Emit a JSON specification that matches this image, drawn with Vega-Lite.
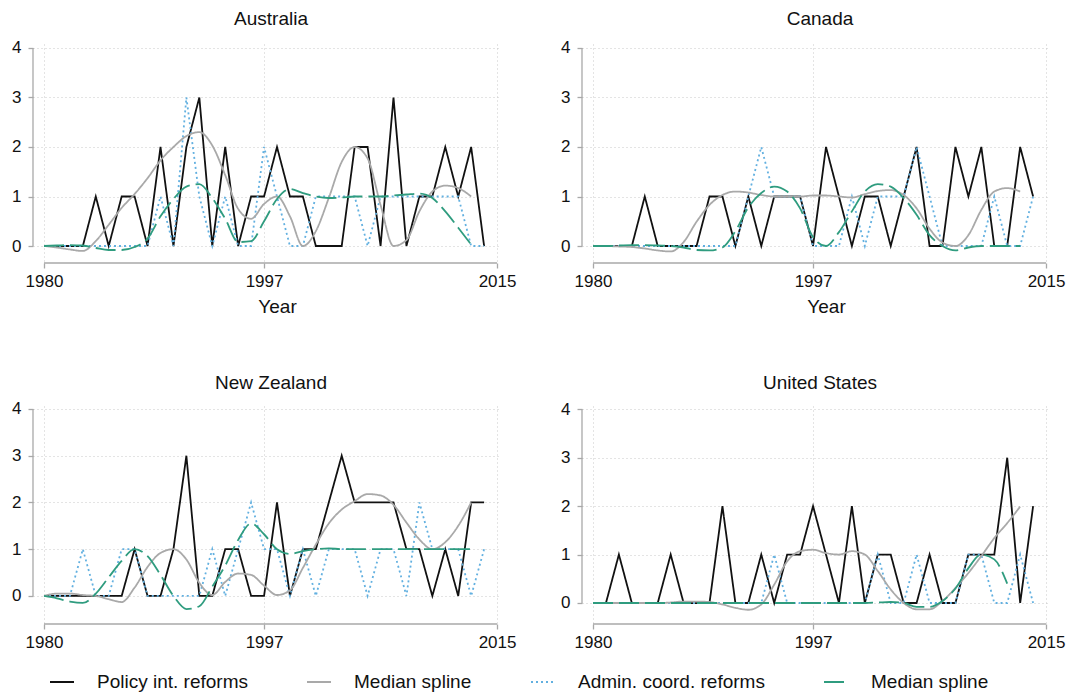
{
  "$schema": "https://vega.github.io/schema/vega-lite/v6.json",
  "padding": {"left": 11, "top": 9, "right": 2, "bottom": 2},
  "config": {
    "font": "Liberation Sans",
    "view": {"stroke": null},
    "title": {"fontSize": 19, "fontWeight": "normal", "color": "#111111", "anchor": "middle", "frame": "group", "baseline": "alphabetic", "offset": 10, "dx": -6},
    "axis": {"domain": false, "grid": true, "gridColor": "#c8c8c8", "gridDash": [1, 3], "gridWidth": 1, "tickColor": "#a8a8a8", "tickWidth": 1.3, "tickSize": 5, "labelFontSize": 17, "labelColor": "#111111", "titleFontSize": 19, "titleFontWeight": "normal", "titleColor": "#111111"},
    "axisX": {"labelPadding": 5, "titlePadding": 8, "labelFlush": false},
    "axisY": {"labelPadding": 7, "offset": 11}
  },
  "data": {"values": [
    {"c":"AU","year":1980,"p":0,"ps":0,"a":0,"as":0},
    {"c":"AU","year":1981,"p":0,"ps":-0.03,"a":0,"as":0.01},
    {"c":"AU","year":1982,"p":0,"ps":-0.07,"a":0,"as":0.02},
    {"c":"AU","year":1983,"p":0,"ps":-0.1,"a":0,"as":0.01},
    {"c":"AU","year":1984,"p":1,"ps":0.1,"a":0,"as":-0.04},
    {"c":"AU","year":1985,"p":0,"ps":0.43,"a":0,"as":-0.08},
    {"c":"AU","year":1986,"p":1,"ps":0.77,"a":0,"as":-0.08},
    {"c":"AU","year":1987,"p":1,"ps":1.05,"a":0,"as":-0.02},
    {"c":"AU","year":1988,"p":0,"ps":1.37,"a":0,"as":0.15},
    {"c":"AU","year":1989,"p":2,"ps":1.73,"a":1,"as":0.6},
    {"c":"AU","year":1990,"p":0,"ps":2.0,"a":0,"as":0.95},
    {"c":"AU","year":1991,"p":2,"ps":2.22,"a":3,"as":1.2},
    {"c":"AU","year":1992,"p":3,"ps":2.3,"a":1,"as":1.25},
    {"c":"AU","year":1993,"p":0,"ps":2.03,"a":0,"as":0.97},
    {"c":"AU","year":1994,"p":2,"ps":1.43,"a":1,"as":0.55},
    {"c":"AU","year":1995,"p":0,"ps":0.75,"a":0,"as":0.08},
    {"c":"AU","year":1996,"p":1,"ps":0.55,"a":0,"as":0.1},
    {"c":"AU","year":1997,"p":1,"ps":0.85,"a":2,"as":0.5},
    {"c":"AU","year":1998,"p":2,"ps":1.0,"a":1,"as":0.95},
    {"c":"AU","year":1999,"p":1,"ps":0.6,"a":0,"as":1.15},
    {"c":"AU","year":2000,"p":1,"ps":0.0,"a":0,"as":1.07},
    {"c":"AU","year":2001,"p":0,"ps":0.3,"a":1,"as":1.0},
    {"c":"AU","year":2002,"p":0,"ps":0.97,"a":1,"as":0.97},
    {"c":"AU","year":2003,"p":0,"ps":1.7,"a":1,"as":0.98},
    {"c":"AU","year":2004,"p":2,"ps":2.0,"a":1,"as":1.0},
    {"c":"AU","year":2005,"p":2,"ps":1.77,"a":0,"as":1.0},
    {"c":"AU","year":2006,"p":0,"ps":0.83,"a":1,"as":1.0},
    {"c":"AU","year":2007,"p":3,"ps":0.0,"a":1,"as":1.02},
    {"c":"AU","year":2008,"p":0,"ps":0.12,"a":1,"as":1.04},
    {"c":"AU","year":2009,"p":1,"ps":0.7,"a":1,"as":1.06},
    {"c":"AU","year":2010,"p":1,"ps":1.1,"a":1,"as":0.97},
    {"c":"AU","year":2011,"p":2,"ps":1.22,"a":1,"as":0.7},
    {"c":"AU","year":2012,"p":1,"ps":1.17,"a":1,"as":0.37},
    {"c":"AU","year":2013,"p":2,"ps":1.0,"a":0,"as":0.03},
    {"c":"AU","year":2014,"p":0,"ps":null,"a":0,"as":null},
    {"c":"CA","year":1980,"p":0,"ps":0,"a":0,"as":0},
    {"c":"CA","year":1981,"p":0,"ps":0,"a":0,"as":0},
    {"c":"CA","year":1982,"p":0,"ps":-0.01,"a":0,"as":0.01},
    {"c":"CA","year":1983,"p":0,"ps":-0.02,"a":0,"as":0.02},
    {"c":"CA","year":1984,"p":1,"ps":-0.05,"a":0,"as":0.02},
    {"c":"CA","year":1985,"p":0,"ps":-0.09,"a":0,"as":0.01},
    {"c":"CA","year":1986,"p":0,"ps":-0.11,"a":0,"as":0.0},
    {"c":"CA","year":1987,"p":0,"ps":0.08,"a":0,"as":-0.03},
    {"c":"CA","year":1988,"p":0,"ps":0.49,"a":0,"as":-0.08},
    {"c":"CA","year":1989,"p":1,"ps":0.83,"a":0,"as":-0.09},
    {"c":"CA","year":1990,"p":1,"ps":1.03,"a":0,"as":-0.03},
    {"c":"CA","year":1991,"p":0,"ps":1.1,"a":0,"as":0.3},
    {"c":"CA","year":1992,"p":1,"ps":1.08,"a":1,"as":0.78},
    {"c":"CA","year":1993,"p":0,"ps":1.03,"a":2,"as":1.07},
    {"c":"CA","year":1994,"p":1,"ps":1.0,"a":1,"as":1.2},
    {"c":"CA","year":1995,"p":1,"ps":1.0,"a":1,"as":1.1},
    {"c":"CA","year":1996,"p":1,"ps":1.0,"a":1,"as":0.76},
    {"c":"CA","year":1997,"p":0,"ps":1.02,"a":0,"as":0.18},
    {"c":"CA","year":1998,"p":2,"ps":1.02,"a":0,"as":0.0},
    {"c":"CA","year":1999,"p":1,"ps":1.0,"a":0,"as":0.28},
    {"c":"CA","year":2000,"p":0,"ps":0.98,"a":1,"as":0.7},
    {"c":"CA","year":2001,"p":1,"ps":1.05,"a":0,"as":1.1},
    {"c":"CA","year":2002,"p":1,"ps":1.11,"a":1,"as":1.25},
    {"c":"CA","year":2003,"p":0,"ps":1.13,"a":1,"as":1.2},
    {"c":"CA","year":2004,"p":1,"ps":1.03,"a":1,"as":0.97},
    {"c":"CA","year":2005,"p":2,"ps":0.76,"a":2,"as":0.63},
    {"c":"CA","year":2006,"p":0,"ps":0.35,"a":1,"as":0.22},
    {"c":"CA","year":2007,"p":0,"ps":0.07,"a":0,"as":0.0},
    {"c":"CA","year":2008,"p":2,"ps":0.0,"a":0,"as":-0.09},
    {"c":"CA","year":2009,"p":1,"ps":0.22,"a":0,"as":-0.03},
    {"c":"CA","year":2010,"p":2,"ps":0.73,"a":0,"as":0.0},
    {"c":"CA","year":2011,"p":0,"ps":1.1,"a":1,"as":0.0},
    {"c":"CA","year":2012,"p":0,"ps":1.17,"a":0,"as":0.0},
    {"c":"CA","year":2013,"p":2,"ps":1.1,"a":0,"as":0.0},
    {"c":"CA","year":2014,"p":1,"ps":null,"a":1,"as":null},
    {"c":"NZ","year":1980,"p":0,"ps":0,"a":0,"as":0},
    {"c":"NZ","year":1981,"p":0,"ps":0.05,"a":0,"as":-0.05},
    {"c":"NZ","year":1982,"p":0,"ps":0.05,"a":0,"as":-0.12},
    {"c":"NZ","year":1983,"p":0,"ps":0.02,"a":1,"as":-0.15},
    {"c":"NZ","year":1984,"p":0,"ps":0.0,"a":0,"as":0.05},
    {"c":"NZ","year":1985,"p":0,"ps":-0.07,"a":0,"as":0.4},
    {"c":"NZ","year":1986,"p":0,"ps":-0.13,"a":1,"as":0.75},
    {"c":"NZ","year":1987,"p":1,"ps":0.18,"a":1,"as":1.0},
    {"c":"NZ","year":1988,"p":0,"ps":0.62,"a":0,"as":0.85},
    {"c":"NZ","year":1989,"p":0,"ps":0.92,"a":0,"as":0.45},
    {"c":"NZ","year":1990,"p":1,"ps":1.0,"a":0,"as":0.0},
    {"c":"NZ","year":1991,"p":3,"ps":0.78,"a":0,"as":-0.28},
    {"c":"NZ","year":1992,"p":0,"ps":0.28,"a":0,"as":-0.22},
    {"c":"NZ","year":1993,"p":0,"ps":0.02,"a":1,"as":0.2},
    {"c":"NZ","year":1994,"p":1,"ps":0.3,"a":0,"as":0.65},
    {"c":"NZ","year":1995,"p":1,"ps":0.48,"a":1,"as":1.2},
    {"c":"NZ","year":1996,"p":0,"ps":0.45,"a":2,"as":1.55},
    {"c":"NZ","year":1997,"p":0,"ps":0.22,"a":1,"as":1.32},
    {"c":"NZ","year":1998,"p":2,"ps":0.02,"a":1,"as":1.0},
    {"c":"NZ","year":1999,"p":0,"ps":0.12,"a":0,"as":0.9},
    {"c":"NZ","year":2000,"p":1,"ps":0.6,"a":1,"as":0.96},
    {"c":"NZ","year":2001,"p":1,"ps":1.1,"a":0,"as":1.0},
    {"c":"NZ","year":2002,"p":2,"ps":1.55,"a":1,"as":1.02},
    {"c":"NZ","year":2003,"p":3,"ps":1.85,"a":1,"as":1.0},
    {"c":"NZ","year":2004,"p":2,"ps":2.03,"a":1,"as":1.0},
    {"c":"NZ","year":2005,"p":2,"ps":2.18,"a":0,"as":1.0},
    {"c":"NZ","year":2006,"p":2,"ps":2.15,"a":1,"as":1.0},
    {"c":"NZ","year":2007,"p":2,"ps":1.95,"a":1,"as":1.0},
    {"c":"NZ","year":2008,"p":1,"ps":1.57,"a":0,"as":1.0},
    {"c":"NZ","year":2009,"p":1,"ps":1.21,"a":2,"as":1.0},
    {"c":"NZ","year":2010,"p":0,"ps":1.0,"a":1,"as":1.0},
    {"c":"NZ","year":2011,"p":1,"ps":1.15,"a":1,"as":1.0},
    {"c":"NZ","year":2012,"p":0,"ps":1.5,"a":1,"as":1.0},
    {"c":"NZ","year":2013,"p":2,"ps":2.0,"a":0,"as":1.0},
    {"c":"NZ","year":2014,"p":2,"ps":null,"a":1,"as":null},
    {"c":"US","year":1980,"p":0,"ps":0,"a":0,"as":0},
    {"c":"US","year":1981,"p":0,"ps":0,"a":0,"as":0},
    {"c":"US","year":1982,"p":1,"ps":0,"a":0,"as":0},
    {"c":"US","year":1983,"p":0,"ps":0,"a":0,"as":0},
    {"c":"US","year":1984,"p":0,"ps":0,"a":0,"as":0},
    {"c":"US","year":1985,"p":0,"ps":0,"a":0,"as":0},
    {"c":"US","year":1986,"p":1,"ps":0.01,"a":0,"as":0},
    {"c":"US","year":1987,"p":0,"ps":0.03,"a":0,"as":0},
    {"c":"US","year":1988,"p":0,"ps":0.03,"a":0,"as":0},
    {"c":"US","year":1989,"p":0,"ps":0.02,"a":0,"as":0},
    {"c":"US","year":1990,"p":2,"ps":-0.03,"a":0,"as":0},
    {"c":"US","year":1991,"p":0,"ps":-0.1,"a":0,"as":0},
    {"c":"US","year":1992,"p":0,"ps":-0.14,"a":0,"as":0},
    {"c":"US","year":1993,"p":1,"ps":-0.03,"a":0,"as":0},
    {"c":"US","year":1994,"p":0,"ps":0.38,"a":1,"as":0},
    {"c":"US","year":1995,"p":1,"ps":0.86,"a":0,"as":0},
    {"c":"US","year":1996,"p":1,"ps":1.07,"a":0,"as":0},
    {"c":"US","year":1997,"p":2,"ps":1.1,"a":0,"as":0},
    {"c":"US","year":1998,"p":1,"ps":1.03,"a":0,"as":0},
    {"c":"US","year":1999,"p":0,"ps":1.0,"a":0,"as":0},
    {"c":"US","year":2000,"p":2,"ps":1.07,"a":0,"as":0},
    {"c":"US","year":2001,"p":0,"ps":1.0,"a":0,"as":0},
    {"c":"US","year":2002,"p":1,"ps":0.66,"a":1,"as":0.01},
    {"c":"US","year":2003,"p":1,"ps":0.28,"a":0,"as":0.02},
    {"c":"US","year":2004,"p":0,"ps":0.0,"a":0,"as":0.0},
    {"c":"US","year":2005,"p":0,"ps":-0.13,"a":1,"as":-0.08},
    {"c":"US","year":2006,"p":1,"ps":-0.13,"a":0,"as":-0.08},
    {"c":"US","year":2007,"p":0,"ps":0.04,"a":0,"as":0.04},
    {"c":"US","year":2008,"p":0,"ps":0.31,"a":0,"as":0.3},
    {"c":"US","year":2009,"p":1,"ps":0.62,"a":1,"as":0.72},
    {"c":"US","year":2010,"p":1,"ps":0.97,"a":1,"as":1.0},
    {"c":"US","year":2011,"p":1,"ps":1.34,"a":0,"as":0.9},
    {"c":"US","year":2012,"p":3,"ps":1.65,"a":0,"as":0.4},
    {"c":"US","year":2013,"p":0,"ps":1.99,"a":1,"as":null},
    {"c":"US","year":2014,"p":2,"ps":null,"a":0,"as":null}
  ]},
  "transform": [{"fold": ["p", "ps", "a", "as"], "as": ["s", "v"]}],
  "spacing": 57,
  "vconcat": [
    {"hconcat": [
      {"width": 466, "height": 219, "title": {"text": "Australia", "offset": 10},
       "layer": [
        {"transform": [{"filter": "datum.c == 'AU' && (datum.s == 'p' || datum.s == 'a')"}],
         "mark": {"type": "line", "strokeWidth": 1.8},
         "encoding": {
          "x": {"field": "year", "type": "quantitative", "scale": {"domain": [1980, 2016], "nice": false, "zero": false}, "axis": {"values": [1980, 1997, 2015], "format": "d", "title": "Year"}},
          "y": {"field": "v", "type": "quantitative", "scale": {"domain": [-0.343, 4.08], "nice": false, "zero": false}, "axis": {"values": [0, 1, 2, 3, 4], "title": null}},
          "color": {"field": "s", "type": "nominal", "scale": {"domain": ["p", "ps", "a", "as"], "range": ["#111111", "#a9a9a9", "#62b0e0", "#2f9c7f"]},
            "legend": {"title": null, "orient": "none", "legendX": 5, "legendY": 625, "direction": "horizontal", "symbolType": "stroke", "symbolSize": 576, "symbolStrokeWidth": 2, "labelFontSize": 19, "labelColor": "#111111", "labelOffset": 22, "columnPadding": 55, "padding": 0, "labelLimit": 400, "labelExpr": "datum.label == 'p' ? 'Policy int. reforms' : datum.label == 'a' ? 'Admin. coord. reforms' : 'Median spline'"}},
          "strokeDash": {"field": "s", "type": "nominal", "scale": {"domain": ["p", "ps", "a", "as"], "range": [[1, 0], [1, 0], [2, 3], [20, 6]]},
            "legend": {"title": null, "orient": "none", "legendX": 5, "legendY": 625, "direction": "horizontal", "symbolType": "stroke", "symbolSize": 576, "symbolStrokeWidth": 2, "labelFontSize": 19, "labelColor": "#111111", "labelOffset": 22, "columnPadding": 55, "padding": 0, "labelLimit": 400, "labelExpr": "datum.label == 'p' ? 'Policy int. reforms' : datum.label == 'a' ? 'Admin. coord. reforms' : 'Median spline'"}}
         }},
        {"transform": [{"filter": "datum.c == 'AU' && (datum.s == 'ps' || datum.s == 'as')"}],
         "mark": {"type": "line", "strokeWidth": 1.8, "interpolate": "monotone"},
         "encoding": {
          "x": {"field": "year", "type": "quantitative", "scale": {"domain": [1980, 2016], "nice": false, "zero": false}},
          "y": {"field": "v", "type": "quantitative", "scale": {"domain": [-0.343, 4.08], "nice": false, "zero": false}},
          "color": {"field": "s", "type": "nominal", "scale": {"domain": ["p", "ps", "a", "as"], "range": ["#111111", "#a9a9a9", "#62b0e0", "#2f9c7f"]}, "legend": null},
          "strokeDash": {"field": "s", "type": "nominal", "scale": {"domain": ["p", "ps", "a", "as"], "range": [[1, 0], [1, 0], [2, 3], [20, 6]]}, "legend": null}
         }},
        {"data": {"values": [{}]}, "mark": {"type": "rule", "color": "#a8a8a8", "strokeWidth": 1.3},
         "encoding": {"x": {"datum": 1980, "type": "quantitative", "scale": {"domain": [1980, 2016], "nice": false, "zero": false}}, "x2": {"datum": 2015}, "y": {"datum": -0.343, "type": "quantitative", "scale": {"domain": [-0.343, 4.08], "nice": false, "zero": false}}}},
        {"data": {"values": [{}]}, "mark": {"type": "rule", "color": "#a8a8a8", "strokeWidth": 1.3},
         "encoding": {"x": {"datum": 1979.15, "type": "quantitative", "scale": {"domain": [1980, 2016], "nice": false, "zero": false}}, "y": {"datum": 0, "type": "quantitative", "scale": {"domain": [-0.343, 4.08], "nice": false, "zero": false}}, "y2": {"datum": 4}}}
       ]},
      {"width": 466, "height": 219, "title": {"text": "Canada", "offset": 10},
       "layer": [
        {"transform": [{"filter": "datum.c == 'CA' && (datum.s == 'p' || datum.s == 'a')"}],
         "mark": {"type": "line", "strokeWidth": 1.8},
         "encoding": {
          "x": {"field": "year", "type": "quantitative", "scale": {"domain": [1980, 2016], "nice": false, "zero": false}, "axis": {"values": [1980, 1997, 2015], "format": "d", "title": "Year"}},
          "y": {"field": "v", "type": "quantitative", "scale": {"domain": [-0.343, 4.08], "nice": false, "zero": false}, "axis": {"values": [0, 1, 2, 3, 4], "title": null}},
          "color": {"field": "s", "type": "nominal", "scale": {"domain": ["p", "ps", "a", "as"], "range": ["#111111", "#a9a9a9", "#62b0e0", "#2f9c7f"]}, "legend": null},
          "strokeDash": {"field": "s", "type": "nominal", "scale": {"domain": ["p", "ps", "a", "as"], "range": [[1, 0], [1, 0], [2, 3], [20, 6]]}, "legend": null}
         }},
        {"transform": [{"filter": "datum.c == 'CA' && (datum.s == 'ps' || datum.s == 'as')"}],
         "mark": {"type": "line", "strokeWidth": 1.8, "interpolate": "monotone"},
         "encoding": {
          "x": {"field": "year", "type": "quantitative", "scale": {"domain": [1980, 2016], "nice": false, "zero": false}},
          "y": {"field": "v", "type": "quantitative", "scale": {"domain": [-0.343, 4.08], "nice": false, "zero": false}},
          "color": {"field": "s", "type": "nominal", "scale": {"domain": ["p", "ps", "a", "as"], "range": ["#111111", "#a9a9a9", "#62b0e0", "#2f9c7f"]}, "legend": null},
          "strokeDash": {"field": "s", "type": "nominal", "scale": {"domain": ["p", "ps", "a", "as"], "range": [[1, 0], [1, 0], [2, 3], [20, 6]]}, "legend": null}
         }},
        {"data": {"values": [{}]}, "mark": {"type": "rule", "color": "#a8a8a8", "strokeWidth": 1.3},
         "encoding": {"x": {"datum": 1980, "type": "quantitative", "scale": {"domain": [1980, 2016], "nice": false, "zero": false}}, "x2": {"datum": 2015}, "y": {"datum": -0.343, "type": "quantitative", "scale": {"domain": [-0.343, 4.08], "nice": false, "zero": false}}}},
        {"data": {"values": [{}]}, "mark": {"type": "rule", "color": "#a8a8a8", "strokeWidth": 1.3},
         "encoding": {"x": {"datum": 1979.15, "type": "quantitative", "scale": {"domain": [1980, 2016], "nice": false, "zero": false}}, "y": {"datum": 0, "type": "quantitative", "scale": {"domain": [-0.343, 4.08], "nice": false, "zero": false}}, "y2": {"datum": 4}}}
       ]}
    ], "spacing": 44},
    {"hconcat": [
      {"width": 466, "height": 218, "title": {"text": "New Zealand", "offset": 7},
       "layer": [
        {"transform": [{"filter": "datum.c == 'NZ' && (datum.s == 'p' || datum.s == 'a')"}],
         "mark": {"type": "line", "strokeWidth": 1.8},
         "encoding": {
          "x": {"field": "year", "type": "quantitative", "scale": {"domain": [1980, 2016], "nice": false, "zero": false}, "axis": {"values": [1980, 1997, 2015], "format": "d", "title": null}},
          "y": {"field": "v", "type": "quantitative", "scale": {"domain": [-0.6, 4.064], "nice": false, "zero": false}, "axis": {"values": [0, 1, 2, 3, 4], "title": null}},
          "color": {"field": "s", "type": "nominal", "scale": {"domain": ["p", "ps", "a", "as"], "range": ["#111111", "#a9a9a9", "#62b0e0", "#2f9c7f"]}, "legend": null},
          "strokeDash": {"field": "s", "type": "nominal", "scale": {"domain": ["p", "ps", "a", "as"], "range": [[1, 0], [1, 0], [2, 3], [20, 6]]}, "legend": null}
         }},
        {"transform": [{"filter": "datum.c == 'NZ' && (datum.s == 'ps' || datum.s == 'as')"}],
         "mark": {"type": "line", "strokeWidth": 1.8, "interpolate": "monotone"},
         "encoding": {
          "x": {"field": "year", "type": "quantitative", "scale": {"domain": [1980, 2016], "nice": false, "zero": false}},
          "y": {"field": "v", "type": "quantitative", "scale": {"domain": [-0.6, 4.064], "nice": false, "zero": false}},
          "color": {"field": "s", "type": "nominal", "scale": {"domain": ["p", "ps", "a", "as"], "range": ["#111111", "#a9a9a9", "#62b0e0", "#2f9c7f"]}, "legend": null},
          "strokeDash": {"field": "s", "type": "nominal", "scale": {"domain": ["p", "ps", "a", "as"], "range": [[1, 0], [1, 0], [2, 3], [20, 6]]}, "legend": null}
         }},
        {"data": {"values": [{}]}, "mark": {"type": "rule", "color": "#a8a8a8", "strokeWidth": 1.3},
         "encoding": {"x": {"datum": 1980, "type": "quantitative", "scale": {"domain": [1980, 2016], "nice": false, "zero": false}}, "x2": {"datum": 2015}, "y": {"datum": -0.6, "type": "quantitative", "scale": {"domain": [-0.6, 4.064], "nice": false, "zero": false}}}},
        {"data": {"values": [{}]}, "mark": {"type": "rule", "color": "#a8a8a8", "strokeWidth": 1.3},
         "encoding": {"x": {"datum": 1979.15, "type": "quantitative", "scale": {"domain": [1980, 2016], "nice": false, "zero": false}}, "y": {"datum": 0, "type": "quantitative", "scale": {"domain": [-0.6, 4.064], "nice": false, "zero": false}}, "y2": {"datum": 4}}}
       ]},
      {"width": 466, "height": 218, "title": {"text": "United States", "offset": 7},
       "layer": [
        {"transform": [{"filter": "datum.c == 'US' && (datum.s == 'p' || datum.s == 'a')"}],
         "mark": {"type": "line", "strokeWidth": 1.8},
         "encoding": {
          "x": {"field": "year", "type": "quantitative", "scale": {"domain": [1980, 2016], "nice": false, "zero": false}, "axis": {"values": [1980, 1997, 2015], "format": "d", "title": null}},
          "y": {"field": "v", "type": "quantitative", "scale": {"domain": [-0.434, 4.068], "nice": false, "zero": false}, "axis": {"values": [0, 1, 2, 3, 4], "title": null}},
          "color": {"field": "s", "type": "nominal", "scale": {"domain": ["p", "ps", "a", "as"], "range": ["#111111", "#a9a9a9", "#62b0e0", "#2f9c7f"]}, "legend": null},
          "strokeDash": {"field": "s", "type": "nominal", "scale": {"domain": ["p", "ps", "a", "as"], "range": [[1, 0], [1, 0], [2, 3], [20, 6]]}, "legend": null}
         }},
        {"transform": [{"filter": "datum.c == 'US' && (datum.s == 'ps' || datum.s == 'as')"}],
         "mark": {"type": "line", "strokeWidth": 1.8, "interpolate": "monotone"},
         "encoding": {
          "x": {"field": "year", "type": "quantitative", "scale": {"domain": [1980, 2016], "nice": false, "zero": false}},
          "y": {"field": "v", "type": "quantitative", "scale": {"domain": [-0.434, 4.068], "nice": false, "zero": false}},
          "color": {"field": "s", "type": "nominal", "scale": {"domain": ["p", "ps", "a", "as"], "range": ["#111111", "#a9a9a9", "#62b0e0", "#2f9c7f"]}, "legend": null},
          "strokeDash": {"field": "s", "type": "nominal", "scale": {"domain": ["p", "ps", "a", "as"], "range": [[1, 0], [1, 0], [2, 3], [20, 6]]}, "legend": null}
         }},
        {"data": {"values": [{}]}, "mark": {"type": "rule", "color": "#a8a8a8", "strokeWidth": 1.3},
         "encoding": {"x": {"datum": 1980, "type": "quantitative", "scale": {"domain": [1980, 2016], "nice": false, "zero": false}}, "x2": {"datum": 2015}, "y": {"datum": -0.434, "type": "quantitative", "scale": {"domain": [-0.434, 4.068], "nice": false, "zero": false}}}},
        {"data": {"values": [{}]}, "mark": {"type": "rule", "color": "#a8a8a8", "strokeWidth": 1.3},
         "encoding": {"x": {"datum": 1979.15, "type": "quantitative", "scale": {"domain": [1980, 2016], "nice": false, "zero": false}}, "y": {"datum": 0, "type": "quantitative", "scale": {"domain": [-0.434, 4.068], "nice": false, "zero": false}}, "y2": {"datum": 4}}}
       ]}
    ], "spacing": 44}
  ]
}
